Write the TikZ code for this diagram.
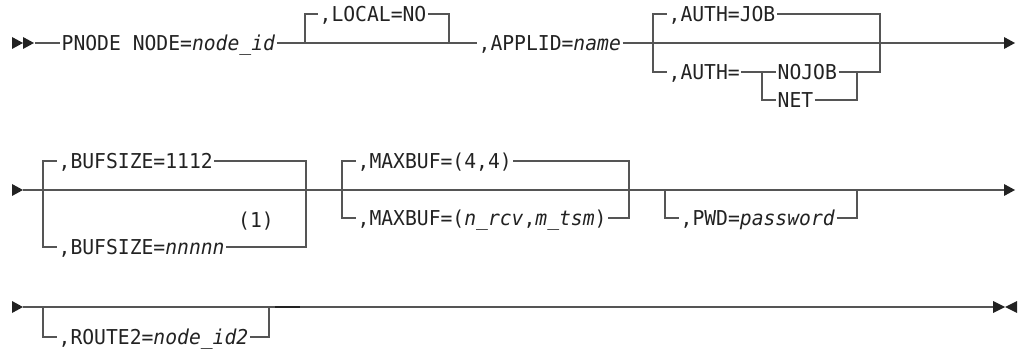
\documentclass[tikz,border=0pt]{standalone}
\usepackage{fontspec}
\newfontfamily\rrfont[FakeStretch=0.96]{DejaVu Sans Mono}
\definecolor{railgray}{HTML}{555555}
\definecolor{inkgray}{HTML}{222222}
\begin{document}
\begin{tikzpicture}[x=1pt,y=-1pt,
  rail/.style={draw=railgray, line width=1.3pt},
  txt/.style={font={\rrfont\fontsize{20.5}{24}\selectfont}, text=inkgray,
    inner ysep=0pt, inner xsep=1.5pt, text height=15pt, text depth=0pt, anchor=west},
  tip/.style={fill=inkgray, draw=none}]
\useasboundingbox (0,0) rectangle (1021,350);

% ---------- first line ----------
\coordinate (r1s) at (35,43);
\node[txt] (pnode) at (60,43) {PNODE NODE=\textit{node\_id}};
\coordinate (locS) at (305,43);
\node[txt] (local) at (318,14) {,LOCAL=NO};
\coordinate (locJ) at (449,43);
\node[txt] (applid) at (477,43) {,APPLID=\textit{name}};
\coordinate (authS) at (653,43);
\node[txt] (authjob) at (667,14) {,AUTH=JOB};
\coordinate (authJ) at (880,43);
\node[txt] (autheq) at (667,72) {,AUTH=};
\coordinate (netS) at (762,72);
\node[txt] (nojob) at (776,72) {NOJOB};
\node[txt] (net) at (776,100) {NET};
\coordinate (netJ) at (857,72);
\coordinate (r1e) at (1004,43);

\draw[rail] (r1s) -- (pnode.west);
\draw[rail] (pnode.east) -- (applid.west);
\draw[rail] (locS) |- (local.west);
\draw[rail] (local.east) -| (locJ);
\draw[rail] (applid.east) -- (r1e);
\draw[rail] (authS) |- (authjob.west);
\draw[rail] (authjob.east) -| (authJ);
\draw[rail] (authS) |- (autheq.west);
\draw[rail] (autheq.east) -- (nojob.west);
\draw[rail] (netS) |- (net.west);
\draw[rail] (nojob.east) -- (netJ) -| (authJ);
\draw[rail] (net.east) -| (netJ);

\fill[tip] (12,37) -- (23,43) -- (12,49) -- cycle;
\fill[tip] (23,37) -- (34,43) -- (23,49) -- cycle;
\fill[tip] (1004,37) -- (1015,43) -- (1004,49) -- cycle;

% ---------- second line ----------
\coordinate (r2s) at (23,190);
\coordinate (bufS) at (43,190);
\node[txt] (buf1) at (57,161) {,BUFSIZE=1112};
\node[txt] (bufn) at (57,247) {,BUFSIZE=\textit{nnnnn}};
\node[txt, anchor=center] (note) at (256,220) {(1)};
\coordinate (bufJ) at (306,190);
\coordinate (maxS) at (342,190);
\node[txt] (max1) at (356,161) {,MAXBUF=(4,4)};
\node[txt] (maxn) at (356,218) {,MAXBUF=(\textit{n\_rcv},\textit{m\_tsm})};
\coordinate (maxJ) at (629,190);
\coordinate (pwdS) at (665,190);
\node[txt] (pwd) at (679,218) {,PWD=\textit{password}};
\coordinate (pwdJ) at (857,190);
\coordinate (r2e) at (1004,190);

\draw[rail] (r2s) -- (r2e);
\draw[rail] (bufS) |- (buf1.west);
\draw[rail] (buf1.east) -| (bufJ);
\draw[rail] (bufS) |- (bufn.west);
\draw[rail] (bufn.east) -| (bufJ);
\draw[rail] (maxS) |- (max1.west);
\draw[rail] (max1.east) -| (maxJ);
\draw[rail] (maxS) |- (maxn.west);
\draw[rail] (maxn.east) -| (maxJ);
\draw[rail] (pwdS) |- (pwd.west);
\draw[rail] (pwd.east) -| (pwdJ);

\fill[tip] (12,184) -- (23,190) -- (12,196) -- cycle;
\fill[tip] (1004,184) -- (1015,190) -- (1004,196) -- cycle;

% ---------- third line ----------
\coordinate (r3s) at (23,307);
\coordinate (rtS) at (43,307);
\node[txt] (route) at (57,337) {,ROUTE2=\textit{node\_id2}};
\coordinate (rtJ) at (269,307);
\coordinate (r3e) at (993,307);

\draw[rail] (r3s) -- (r3e);
\draw[rail] (rtS) |- (route.west);
\draw[rail] (route.east) -| (rtJ);
\draw[line width=1.8pt, inkgray] (275,307) -- (300,307);

\fill[tip] (12,301) -- (23,307) -- (12,313) -- cycle;
\fill[tip] (993,301) -- (1005,307) -- (993,313) -- cycle;
\fill[tip] (1017,301) -- (1005,307) -- (1017,313) -- cycle;
\end{tikzpicture}
\end{document}
